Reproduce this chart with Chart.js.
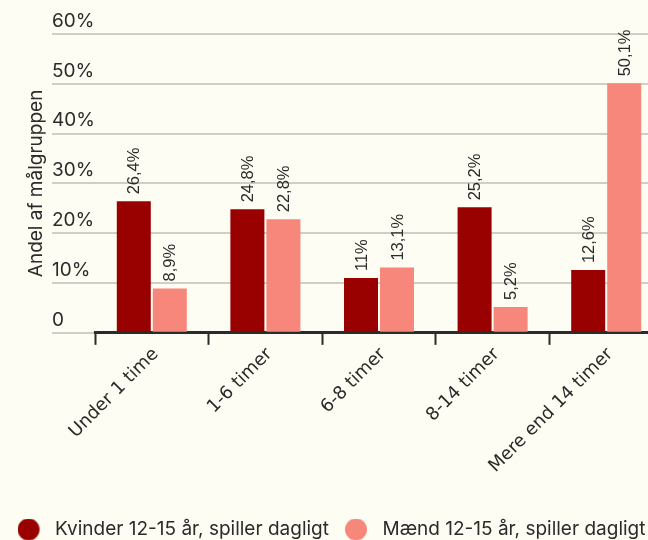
<!DOCTYPE html>
<html lang="da">
<head>
<meta charset="utf-8">
<title>Daglig spilletid, 12-15 år</title>
<script src="https://cdn.jsdelivr.net/npm/chart.js@4.4.1/dist/chart.umd.min.js"></script>
<style>
    html, body { margin: 0; padding: 0; background: #fdfdf4; overflow: hidden; }
    #wrap { width: 648px; height: 540px; overflow: hidden; }
    canvas { display: block; }
</style>
</head>
<body>
<div id="wrap"><canvas id="chart" width="664" height="540"></canvas></div>
<script>
/* ================= DATA ================= */
const categories = ["Under 1 time", "1-6 timer", "6-8 timer", "8-14 timer", "Mere end 14 timer"];
const kvinder = [26.4, 24.8, 11, 25.2, 12.6];
const maend = [8.9, 22.8, 13.1, 5.2, 50.1];
const seriesNames = ["Kvinder 12-15 år, spiller dagligt", "Mænd 12-15 år, spiller dagligt"];
const yTicks = [0, 10, 20, 30, 40, 50, 60];
const yTitle = "Andel af målgruppen";

/* ================= STYLE ================= */
const BG = "#fdfdf4";
const DARK = "#990000";
const LIGHT = "#f8877b";
const INK = "#2b2b2b";
const GRID = "#cfcfc7";

// circle with empty space on its right, used as legend marker
function dot(color) {
    const c = document.createElement("canvas");
    c.width = 28;
    c.height = 22;
    const g = c.getContext("2d");
    g.fillStyle = color;
    g.beginPath();
    g.arc(11, 11, 11, 0, Math.PI * 2);
    g.fill();
    return c;
}

const fmt = v => String(v).replace(".", ",") + "%";

/* ================= PLUGINS ================= */
const background = {
    id: "background",
    beforeDraw(chart) {
        const ctx = chart.ctx;
        ctx.save();
        ctx.fillStyle = BG;
        ctx.fillRect(0, 0, chart.width, chart.height);
        ctx.restore();
    }
};

// vertical value labels above each bar
const barValues = {
    id: "barValues",
    afterDatasetsDraw(chart) {
        const ctx = chart.ctx;
        ctx.save();
        ctx.fillStyle = INK;
        ctx.font = "16.5px 'Liberation Sans', Arial, sans-serif";
        ctx.textAlign = "left";
        ctx.textBaseline = "middle";
        chart.data.datasets.forEach((ds, i) => {
            chart.getDatasetMeta(i).data.forEach((bar, j) => {
                ctx.save();
                ctx.translate(bar.x, bar.y - 7);
                ctx.rotate(-Math.PI / 2);
                ctx.fillText(fmt(ds.data[j]), 0, 1);
                ctx.restore();
            });
        });
        ctx.restore();
    }
};

/* ================= CHART ================= */
const markers = [dot(DARK), dot(LIGHT)];

new Chart(document.getElementById("chart"), {
    type: "bar",
    data: {
        labels: categories,
        datasets: [
            { label: seriesNames[0], data: kvinder, backgroundColor: DARK },
            { label: seriesNames[1], data: maend, backgroundColor: LIGHT }
        ]
    },
    options: {
        responsive: false,
        animation: false,
        events: [],
        categoryPercentage: 0.634,
        barPercentage: 0.944,
        layout: { padding: { left: 0, right: 1, top: 34, bottom: -9 } },
        plugins: {
            tooltip: { enabled: false },
            legend: {
                position: "bottom",
                labels: {
                    usePointStyle: true,
                    pointStyleWidth: 28,
                    boxHeight: 19,
                    padding: 16,
                    color: INK,
                    font: { family: "Inter", size: 19 },
                    generateLabels(chart) {
                        const items = Chart.defaults.plugins.legend.labels.generateLabels(chart);
                        items.forEach((it, i) => { it.pointStyle = markers[i]; });
                        return items;
                    }
                }
            }
        },
        scales: {
            x: {
                offset: true,
                // extra room between the rotated labels and the legend
                afterFit(scale) { scale.height += 28; },
                grid: {
                    offset: true,
                    drawOnChartArea: false,
                    tickLength: 12,
                    tickColor: INK,
                    tickWidth: 2
                },
                border: { color: INK, width: 3 },
                ticks: {
                    color: INK,
                    minRotation: 45,
                    maxRotation: 45,
                    padding: -1,
                    labelOffset: 4,
                    font: { family: "DejaVu Sans", size: 18 }
                }
            },
            y: {
                min: 0,
                max: 60,
                afterFit(scale) { scale.width = 95; },
                afterBuildTicks(scale) { scale.ticks = yTicks.map(v => ({ value: v })); },
                grid: { color: GRID, lineWidth: 2, tickLength: 43 },
                border: { display: false },
                ticks: {
                    mirror: true,
                    crossAlign: "near",
                    labelOffset: -13,
                    padding: -43,
                    color: INK,
                    font: { family: "Inter", size: 19 },
                    callback: v => (v === 0 ? "0" : v + "%")
                },
                title: {
                    display: true,
                    text: yTitle,
                    color: INK,
                    padding: { top: 25, bottom: 0 },
                    font: { family: "Inter", size: 19 }
                }
            }
        }
    },
    plugins: [background, barValues]
});
</script>
</body>
</html>
